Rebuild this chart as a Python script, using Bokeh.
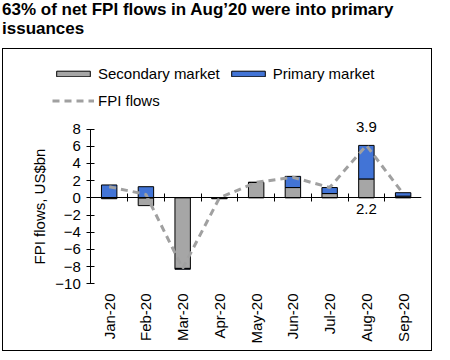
from bokeh.plotting import figure
from bokeh.models import (Div, Range1d, LinearAxis, FixedTicker, Legend, LegendItem,
                          ColumnDataSource)
from bokeh.layouts import column
from bokeh.core.properties import value
from bokeh.embed import file_html
from bokeh.resources import INLINE
import math

# ---- data ----
months = ["Jan-20", "Feb-20", "Mar-20", "Apr-20", "May-20", "Jun-20", "Jul-20", "Aug-20", "Sep-20"]
secondary = [-0.1, -0.9, -8.2, -0.1, 1.8, 1.2, 0.5, 2.2, 0.2]
primary = [1.5, 1.3, -0.1, 0.0, 0.0, 1.3, 0.7, 3.9, 0.4]
fpi_flows = [1.3, 0.4, -8.2, 0.0, 1.8, 2.4, 1.2, 6.1, 0.5]
y_ticks = [-10, -8, -6, -4, -2, 0, 2, 4, 6, 8]
y_title = "FPI flows, US$bn"
title_text = "63% of net FPI flows in Aug\u201920 were into primary issuances"

FONT = "Liberation Sans"
GRAY = "#A6A6A6"
BLUE = "#4274D6"
FS = "15px"

n = len(months)
xi = list(range(n))

# Excel-style stacking: positives and negatives stack separately
sec_bot, sec_top, pri_bot, pri_top = [], [], [], []
for s, pr in zip(secondary, primary):
    pos, neg = 0.0, 0.0
    if s >= 0:
        sec_bot.append(0.0); sec_top.append(s); pos = s
    else:
        sec_bot.append(s); sec_top.append(0.0); neg = s
    if pr >= 0:
        pri_bot.append(pos); pri_top.append(pos + pr)
    else:
        pri_bot.append(neg + pr); pri_top.append(neg)

src = ColumnDataSource(dict(x=xi, sb=sec_bot, st=sec_top, pb=pri_bot, pt=pri_top, f=fpi_flows))

x_lo = -0.5 - 1.723   # extra room at left of the y axis for axis title and legend
p = figure(x_range=Range1d(x_lo, n - 0.5), y_range=Range1d(-11, 16.55), width=430, height=303,
           output_backend="svg", toolbar_location=None, y_axis_location=None,
           min_border_left=24, min_border_right=12, min_border_top=6, min_border_bottom=60)
p.outline_line_color = None
p.grid.visible = False
p.background_fill_color = "white"
p.border_fill_color = "white"
p.margin = (0, 0, 0, 2)
p.styles = {"border": "1px solid black"}

r_sec = p.vbar(x="x", bottom="sb", top="st", width=0.42, source=src,
               fill_color=GRAY, line_color="black", line_width=1)
r_pri = p.vbar(x="x", bottom="pb", top="pt", width=0.42, source=src,
               fill_color=BLUE, line_color="black", line_width=1)
r_line = p.line(x="x", y="f", source=src, line_color="#A0A0A0", line_width=3,
                line_dash="7 5")

# value labels for Aug
ia = months.index("Aug-20")
p.text(x=[ia, ia], y=[8.2, -1.3],
       text=[f"{primary[ia]:.1f}", f"{secondary[ia]:.1f}"],
       text_align="center", text_baseline="middle",
       text_font=value(FONT), text_font_size=FS, text_color="black")

# y axis, drawn at the left edge of the category area
ya = LinearAxis(fixed_location=-0.5, bounds=(y_ticks[0], y_ticks[-1]),
                ticker=FixedTicker(ticks=y_ticks))
ya.minor_tick_line_color = None
ya.major_tick_in = 4
ya.major_tick_out = 4
ya.major_label_standoff = 6
ya.axis_line_color = "black"
ya.major_tick_line_color = "black"
ya.major_label_text_font = FONT
ya.major_label_text_font_size = FS
ya.major_label_text_color = "black"
p.add_layout(ya, "left")

# y axis title, centred on the tick span
p.text(x=[-1.895], y=[(y_ticks[0] + y_ticks[-1]) / 2], text=[y_title], angle=math.pi / 2,
       text_align="center", text_baseline="middle",
       text_font=value(FONT), text_font_size=FS, text_color="black")

# category labels at bottom
xa = p.xaxis[0]
xa.ticker = FixedTicker(ticks=xi)
xa.major_label_overrides = {i: m for i, m in zip(xi, months)}
xa.axis_line_color = None
xa.major_tick_line_color = None
xa.minor_tick_line_color = None
xa.major_tick_out = 0
xa.major_tick_in = 0
xa.major_label_orientation = math.pi / 2
xa.major_label_standoff = 1
xa.major_label_text_font = FONT
xa.major_label_text_font_size = FS
xa.major_label_text_color = "black"

# zero-line axis with ticks between categories
btw = [i + 0.5 for i in xi[:-1]]
zx = LinearAxis(fixed_location=0, bounds=(-0.5, n - 0.5),
                ticker=FixedTicker(ticks=btw),
                major_label_overrides={t: "" for t in btw},
                major_tick_in=4, major_tick_out=4,
                minor_tick_line_color=None,
                axis_line_color="black", major_tick_line_color="black")
p.add_layout(zx, "below")

legend = Legend(items=[LegendItem(label="Secondary market", renderers=[r_sec]),
                       LegendItem(label="Primary market", renderers=[r_pri]),
                       LegendItem(label="FPI flows", renderers=[r_line])],
                location=(25, 182), orientation="horizontal", ncols=2,
                glyph_width=42, glyph_height=7, label_standoff=4, spacing=7,
                label_height=20, padding=0, margin=0,
                label_text_font=FONT, label_text_font_size=FS,
                label_text_color="black",
                border_line_color=None, background_fill_alpha=0)
p.add_layout(legend, "center")

title = Div(text=title_text, width=432, height=48, margin=(0, 0, 0, 2),
            styles={"font-family": FONT, "font-weight": "bold", "font-size": "17px",
                    "line-height": "19px", "color": "black"})

layout = column(title, p)
open("out.html", "w").write(file_html(layout, INLINE))
